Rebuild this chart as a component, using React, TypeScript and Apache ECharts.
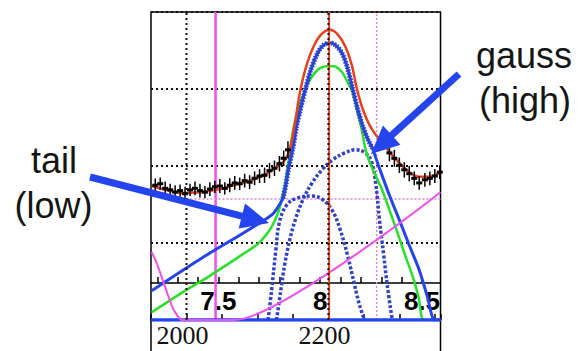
import React, { useEffect, useRef } from "react";
import * as echarts from "echarts";

// ---- axis labels / ticks ----
const massLabels = [2000, 2200];
const topTickValues = [7.2, 7.3, 7.4, 7.5, 7.6, 7.7, 7.8, 7.9, 8.0, 8.1, 8.2, 8.3, 8.4, 8.5];
const topLabelValues = [7.5, 8, 8.5];
const gridMass = [2000, 2200];

// ---- curves (mass, counts) ----
const redTotal = [
  [1951, 174], [1970, 169], [1994, 165], [2019, 166], [2047, 170], [2075, 177], [2096, 183],
  [2115, 191], [2129, 200], [2139, 208], [2146, 223], [2153, 257], [2160, 296], [2168, 327],
  [2178, 353], [2189, 370], [2202, 377], [2213, 371], [2224, 355], [2233, 331], [2240, 301],
  [2248, 275], [2258, 253], [2268, 239], [2277, 231], [2286, 218], [2300, 204], [2314, 192],
  [2328, 186], [2343, 186], [2358, 192],
];
const blueTotal = [
  [1951, 38], [2019, 79], [2075, 110], [2110, 130], [2122, 138], [2129, 147], [2136, 158],
  [2140, 175], [2144, 197], [2150, 223], [2155, 251], [2161, 275], [2168, 301], [2176, 327],
  [2185, 347], [2193, 357], [2202, 360], [2210, 357], [2219, 347], [2227, 327], [2234, 301],
  [2241, 275], [2248, 253], [2255, 236], [2262, 223], [2272, 197], [2286, 162], [2300, 130],
  [2314, 97], [2328, 65], [2339, 32], [2350, 0], [2358, 0],
];
const greenSignal = [
  [1951, 10], [1991, 34], [2034, 58], [2082, 87], [2101, 99], [2110, 108], [2120, 121],
  [2129, 139], [2134, 156], [2139, 178], [2143, 200], [2148, 234], [2155, 266], [2164, 292],
  [2174, 312], [2185, 325], [2194, 329], [2202, 330], [2210, 329], [2219, 322], [2227, 309],
  [2234, 296], [2241, 270], [2247, 247], [2252, 223], [2258, 205], [2267, 187], [2277, 166],
  [2286, 143], [2296, 117], [2307, 87], [2319, 56], [2327, 30], [2335, 0], [2358, 0],
];
const gaussLow = [
  [2115, 0], [2120, 39], [2126, 91], [2131, 127], [2141, 149], [2155, 158], [2177, 161],
  [2191, 157], [2205, 143], [2216, 119], [2227, 84], [2237, 45], [2244, 19], [2251, 0],
];
const gaussHigh = [
  [2127, 0], [2133, 39], [2139, 75], [2146, 106], [2154, 132], [2164, 156], [2177, 178],
  [2191, 195], [2206, 208], [2223, 217], [2238, 221], [2252, 217], [2261, 205], [2267, 175],
  [2272, 130], [2278, 84], [2283, 45], [2290, 0],
];
const background = [
  [1951, 88], [1958, 74], [1965, 56], [1974, 32], [1982, 13], [1991, 1], [1992, 0],
  [2068, 0], [2358, 166],
];

// ---- data points ----
const dataMass = [1956, 1963, 1970, 1977, 1984, 1991, 1998, 2005, 2012, 2019, 2026, 2033, 2040, 2047,
  2054, 2061, 2068, 2075, 2082, 2089, 2096, 2103, 2110, 2117, 2124, 2131, 2137, 2143,
  2286, 2293, 2300, 2307, 2314, 2321, 2328, 2336, 2343, 2350, 2357];
const dataCounts = [175, 177, 171, 169, 166, 168, 164, 169, 171, 168, 166, 170, 173, 174,
  171, 175, 178, 177, 181, 179, 184, 187, 188, 194, 197, 203, 210, 221,
  217, 210, 201, 195, 190, 184, 178, 182, 184, 187, 192];
const dataErr = [9, 8, 9, 8, 9, 8, 9, 8, 9, 9, 8, 9, 8, 9, 8, 9, 9, 8, 9, 9, 9, 9, 10, 10, 10, 10, 10, 11,
  11, 11, 10, 10, 10, 9, 9, 9, 9, 9, 9];

// ---- reference lines ----
const peakMass = 2201;
const cutMass = 2041;
const sideMass = 2268;
const sideCounts = 157;

const RED = "#e8401c";
const BLUE = "#2444ee";
const BLUE_DOT = "#3242c4";
const GREEN = "#27e027";
const MAGENTA = "#ee4fee";
const MAGENTA_LIGHT = "#e37fe3";

function lineSeries(data: number[][], color: string, width: number, type: any, smooth: any, z: number) {
  return {
    type: "line",
    xAxisIndex: 0,
    yAxisIndex: 0,
    data,
    symbol: "none",
    showSymbol: false,
    smooth,
    silent: true,
    z,
    lineStyle: { color, width, type, cap: "butt" },
  };
}

function arrow(x1: number, y1: number, tx: number, ty: number) {
  const dx = tx - x1, dy = ty - y1;
  const len = Math.sqrt(dx * dx + dy * dy);
  const ux = dx / len, uy = dy / len;
  const hl = 28, hw = 13;
  const bx = tx - ux * hl, by = ty - uy * hl;
  const px = -uy * hw, py = ux * hw;
  return [
    { type: "line", z: 100, shape: { x1, y1, x2: bx + ux * 4, y2: by + uy * 4 }, style: { stroke: BLUE, lineWidth: 7 } },
    { type: "polygon", z: 100, shape: { points: [[tx, ty], [bx + px, by + py], [bx - px, by - py]] }, style: { fill: BLUE } },
  ];
}

const txt = (text: string, x: number, y: number) => ({
  type: "text",
  z: 100,
  x,
  y,
  style: {
    text,
    fontSize: 36,
    fontFamily: "Liberation Sans, Arial, sans-serif",
    fill: "#151515",
    align: "center",
    verticalAlign: "middle",
  },
});

export default function App() {
  const ref = useRef<HTMLDivElement>(null);
  useEffect(() => {
    document.body.style.margin = "0";
    const chart = echarts.init(ref.current!, undefined, { renderer: "svg", width: 579, height: 351 });
    const vline = (m: number, color: string, width: number, type: any, z: number) =>
      lineSeries([[m, 0], [m, 400]], color, width, type, false, z);

    const option: any = {
      animation: false,
      backgroundColor: "#ffffff",
      grid: {
        left: 151,
        right: 138.5,
        top: 12,
        bottom: 31,
        show: true,
        borderColor: "#000",
        borderWidth: 1.5,
        backgroundColor: "transparent",
      },
      xAxis: [
        {
          type: "value",
          position: "bottom",
          min: 1950,
          max: 2358,
          interval: 50,
          axisLine: { show: true, onZero: false, lineStyle: { color: "#000", width: 1.5 } },
          axisTick: { show: true, inside: true, length: 6, lineStyle: { color: "#000", width: 1.5 } },
          axisLabel: {
            show: true,
            margin: 2,
            color: "#111",
            fontFamily: "Liberation Serif, Times New Roman, serif",
            fontSize: 26,
            padding: [0, 8, 0, 0],
            formatter: (v: number) => (massLabels.includes(v) ? String(v) : ""),
          },
          splitLine: { show: false },
        },
        {
          type: "value",
          position: "bottom",
          offset: -37,
          min: 7.169,
          max: 8.591,
          axisLine: { show: true, onZero: false, lineStyle: { color: "#000", width: 1.5 } },
          axisTick: { show: true, inside: true, length: 6, customValues: topTickValues, lineStyle: { color: "#000", width: 1.5 } },
          axisLabel: {
            show: true,
            margin: 5,
            customValues: topLabelValues,
            color: "#000",
            fontFamily: "Liberation Sans, Arial, sans-serif",
            fontWeight: "bold",
            fontSize: 26,
          },
          splitLine: { show: false },
        },
      ],
      yAxis: {
        type: "value",
        min: 0,
        max: 400,
        interval: 100,
        axisLine: { show: false },
        axisTick: { show: false },
        axisLabel: { show: false },
        splitLine: { show: true, lineStyle: { color: "#111", width: 2, type: [2, 3] } },
      },
      series: [
        vline(cutMass, MAGENTA, 2.5, "solid", 2),
        vline(sideMass, MAGENTA_LIGHT, 1.5, [2, 2], 2),
        lineSeries([[2000, sideCounts], [2358, sideCounts]], MAGENTA_LIGHT, 1.5, [2, 2], false, 2),
        lineSeries(gaussLow, BLUE_DOT, 3.5, [3, 2], 0.4, 3),
        lineSeries(gaussHigh, BLUE_DOT, 3.5, [3, 2], 0.4, 3),
        lineSeries(greenSignal, GREEN, 2.5, "solid", 0.3, 4),
        lineSeries(blueTotal, BLUE, 3, "solid", 0.3, 5),
        lineSeries(blueTotal.filter((p) => p[0] >= 2136 && p[0] <= 2262), BLUE_DOT, 5, [1.5, 1.5], 0.3, 5),
        lineSeries([[1950, 0], [2358, 0]], BLUE, 3.5, "solid", false, 5),
        lineSeries(background, MAGENTA, 2, "solid", 0.2, 6),
        vline(peakMass, RED, 2, "solid", 7),
        lineSeries(redTotal, RED, 2.5, "solid", 0.3, 8),
        {
          type: "custom",
          xAxisIndex: 0,
          yAxisIndex: 0,
          z: 9,
          silent: true,
          data: dataMass.map((m, i) => [m, dataCounts[i], dataErr[i]]),
          renderItem: (params: any, api: any) => {
            const x = api.value(0), y = api.value(1), e = api.value(2);
            const p = api.coord([x, y]);
            const lo = api.coord([x, y - e]);
            const hi = api.coord([x, y + e]);
            return {
              type: "group",
              children: [
                { type: "line", shape: { x1: p[0], y1: lo[1], x2: p[0], y2: hi[1] }, style: { stroke: "#000", lineWidth: 1.5 } },
                { type: "rect", shape: { x: p[0] - 3, y: p[1] - 1.5, width: 6, height: 3 }, style: { fill: "#000" } },
              ],
            };
          },
        },
        ...gridMass.map((m) => vline(m, "#111", 2, [2, 3], 10)),
      ],
      graphic: [
        { type: "line", shape: { x1: 151, y1: 320, x2: 151, y2: 352 }, style: { stroke: "#000", lineWidth: 1.5 } },
        { type: "line", shape: { x1: 440.5, y1: 320, x2: 440.5, y2: 352 }, style: { stroke: "#000", lineWidth: 1.5 } },
        txt("tail", 54, 160.5),
        txt("(low)", 53.5, 205.5),
        txt("gauss", 524, 55.5),
        txt("(high)", 525, 100.5),
        ...arrow(90, 177, 269, 223),
        ...arrow(459, 74, 371, 154),
      ],
    };
    chart.setOption(option);
    return () => chart.dispose();
  }, []);
  return <div ref={ref} style={{ width: 579, height: 351 }} />;
}
